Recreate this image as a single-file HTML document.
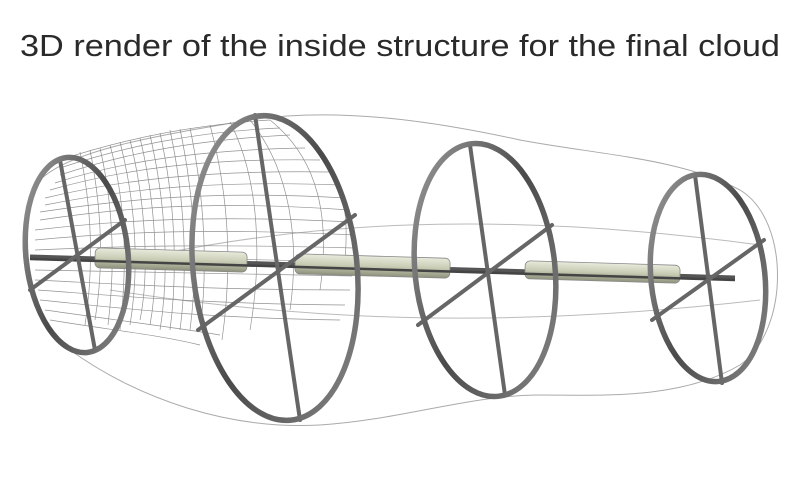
<!DOCTYPE html>
<html><head><meta charset="utf-8"><style>
html,body{margin:0;padding:0;background:#fff;width:800px;height:487px;overflow:hidden}
</style></head><body>
<svg width="800" height="487" viewBox="0 0 800 487" xmlns="http://www.w3.org/2000/svg">
<defs>
<linearGradient id="rg" x1="0" y1="0" x2="1" y2="1">
<stop offset="0" stop-color="#a0a0a0"/><stop offset="0.5" stop-color="#4a4a4a"/><stop offset="1" stop-color="#8a8a8a"/>
</linearGradient>
<linearGradient id="cy" x1="0" y1="0" x2="0" y2="1">
<stop offset="0" stop-color="#e8eadc"/><stop offset="0.5" stop-color="#c9ccb4"/><stop offset="1" stop-color="#8e927c"/>
</linearGradient>
</defs>
<text x="20" y="56" font-family="'Liberation Sans',sans-serif" font-size="31" fill="#2a2a2a" textLength="760" lengthAdjust="spacingAndGlyphs">3D render of the inside structure for the final cloud</text>
<path d="M40,180 C70,150 160,135 250,120 C330,108 420,118 520,140 C600,155 680,158 740,190 C790,220 790,330 740,365 C680,400 600,395 540,395 C470,395 400,420 320,425 C230,430 140,400 70,350 C20,320 10,220 40,180 Z" fill="none" stroke="#aaa" stroke-width="1"/>
<path d="M110,265 C300,220 500,210 760,245" fill="none" stroke="#bbb" stroke-width="1"/>
<path d="M110,290 C300,320 500,330 760,300" fill="none" stroke="#bbb" stroke-width="1"/>
<g fill="none" stroke="#777" stroke-width="0.7" opacity="0.8">
<path d="M60,160 C120,140 190,125 270,120"/>
<path d="M60,168 C120,148 190,132 280,128"/>
<path d="M60,175 C120,155 190,140 290,135"/>
<path d="M55,183 C120,162 195,150 305,148"/>
<path d="M50,190 C120,170 200,158 320,160"/>
<path d="M45,198 C120,180 205,170 330,172"/>
<path d="M45,205 C120,190 210,180 340,185"/>
<path d="M40,212 C120,200 210,190 345,198"/>
<path d="M40,220 C120,208 210,200 350,210"/>
<path d="M35,230 C120,220 210,215 352,222"/>
<path d="M35,240 C120,232 210,228 355,235"/>
<path d="M35,250 C120,246 210,244 355,248"/>
<path d="M35,260 C120,258 210,258 355,262"/>
<path d="M35,270 C120,271 210,274 352,276"/>
<path d="M35,280 C120,284 210,290 350,290"/>
<path d="M38,290 C120,296 205,304 345,305"/>
<path d="M40,300 C120,308 200,318 340,320"/>
<path d="M45,310 C115,320 180,328 220,335"/>
<path d="M50,320 C110,330 160,335 200,345"/>
<path d="M80,152 C90,200 95,260 85,325"/>
<path d="M90,150 C100,200 105,260 95,320"/>
<path d="M100,148 C112,200 116,260 108,325"/>
<path d="M110,145 C125,200 128,260 120,330"/>
<path d="M120,142 C135,200 140,265 130,325"/>
<path d="M130,140 C145,200 150,270 140,320"/>
<path d="M140,138 C155,200 160,270 150,325"/>
<path d="M150,135 C165,200 170,270 160,330"/>
<path d="M160,133 C175,200 178,270 170,330"/>
<path d="M170,130 C185,200 188,270 180,330"/>
<path d="M180,129 C195,200 198,270 190,330"/>
<path d="M190,128 C205,200 208,270 200,330"/>
<path d="M210,125 C230,200 232,270 222,340"/>
<path d="M230,122 C260,180 262,260 250,330"/>
<path d="M250,120 C290,170 300,240 290,310"/>
<path d="M270,120 C320,160 330,220 320,290"/>
<path d="M290,125 C340,160 350,200 345,260"/>
</g>
<line x1="30" y1="257" x2="735" y2="278" stroke="#555" stroke-width="5"/>
<rect x="95" y="250" width="152" height="20" rx="5" fill="url(#cy)" stroke="#888" stroke-width="0.8" transform="rotate(1.7 170 260)"/>
<rect x="295" y="256" width="155" height="20" rx="5" fill="url(#cy)" stroke="#888" stroke-width="0.8" transform="rotate(1.7 372 266)"/>
<rect x="525" y="263" width="155" height="18" rx="5" fill="url(#cy)" stroke="#888" stroke-width="0.8" transform="rotate(1.7 602 272)"/>
<line x1="30" y1="259" x2="735" y2="280" stroke="#444" stroke-width="2.5"/>
<g stroke="#666" stroke-width="4" stroke-linecap="round">
<line x1="60" y1="160" x2="95" y2="350"/><line x1="30" y1="290" x2="125" y2="220"/>
<line x1="255" y1="115" x2="300" y2="420"/><line x1="198" y1="330" x2="355" y2="215"/>
<line x1="470" y1="145" x2="505" y2="395"/><line x1="418" y1="325" x2="552" y2="225"/>
<line x1="695" y1="175" x2="722" y2="383"/><line x1="652" y1="320" x2="764" y2="240"/>
</g>
<g fill="none" stroke="url(#rg)" stroke-width="5.5">
<ellipse cx="77" cy="255" rx="51" ry="98" transform="rotate(-6 77 255)"/>
<ellipse cx="275" cy="268" rx="82" ry="153" transform="rotate(-6 275 268)"/>
<ellipse cx="485" cy="270" rx="70" ry="127" transform="rotate(-6 485 270)"/>
<ellipse cx="708" cy="278" rx="57" ry="104" transform="rotate(-6 708 278)"/>
</g>
</svg>
</body></html>
